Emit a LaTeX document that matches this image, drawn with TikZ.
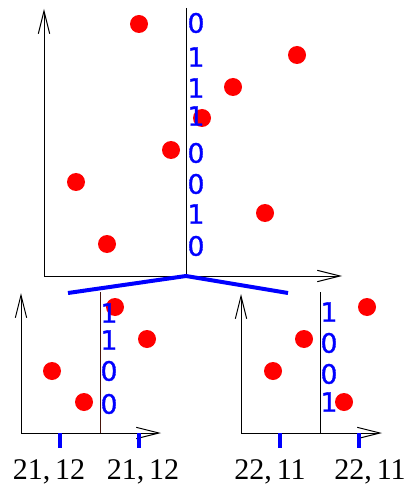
\documentclass[tikz,border=0pt]{standalone}
\usepackage{fontspec}
\setmainfont{Liberation Serif}
\newfontfamily\bitfont[FakeBold=1.2]{DejaVu Sans}
\usetikzlibrary{arrows.meta}
\definecolor{splitbrown}{RGB}{70,20,10}

\begin{document}
\begin{tikzpicture}[
        x=0.75pt, y=-0.75pt,
        axis/.style={line width=0.75pt, -{Straight Barb[length=17pt,width=8.5pt]}},
        split/.style={line width=0.75pt},
        branch/.style={blue, line width=3pt},
        tick/.style={blue, line width=3pt},
        dot/.style={red},
        bit/.style={blue, inner sep=0pt, font=\bitfont\fontsize{20}{20}\selectfont},
        lbl/.style={anchor=base, inner sep=0pt, font=\fontsize{22.5}{23}\selectfont}
    ]
    \useasboundingbox (0,0) rectangle (407,488);

    % top plot
    \coordinate (topO) at (44,276);
    \coordinate (topS) at (186,276);
    \draw[axis] (topO) -- (44,9);
    \draw[axis] (topO) -- (342,276);
    \draw[split] (186,8) -- (topS);
    \foreach \x/\y in {139/24, 297/55, 233/87, 202/118, 171/150, 76/182, 265/213, 107/244}
        \fill[dot] (\x,\y) circle[radius=6.75pt];
    \foreach \y/\b [count=\i] in {23/0, 57/1, 88/1, 116/1, 153/0, 184/0, 214/1, 246/0}
        \node[bit] (topbit\i) at (196,\y) {\b};

    % branches
    \draw[branch] (68,293) -- (topS) -- (288,293);

    % bottom left plot
    \coordinate (leftO) at (21,433);
    \draw[axis] (leftO) -- (21,293);
    \draw[axis] (leftO) -- (161,433);
    \draw[split, splitbrown] (100,292) -- (100,433);
    \foreach \x/\y in {115/307, 147/339, 52/371, 84/402}
        \fill[dot] (\x,\y) circle[radius=6.75pt];
    \foreach \y/\b [count=\i] in {313/1, 340/1, 371/0, 404/0}
        \node[bit] (leftbit\i) at (109,\y) {\b};
    \foreach \x in {60, 139}
        \draw[tick] (\x,433) -- (\x,448);
    \node[lbl] (leftlblA) at (49,479) {21,\,12};
    \node[lbl] (leftlblB) at (143,479) {21,\,12};

    % bottom right plot
    \coordinate (rightO) at (241,433);
    \draw[axis] (rightO) -- (241,294);
    \draw[axis] (rightO) -- (382,433);
    \draw[split] (320,292) -- (320,433);
    \foreach \x/\y in {367/307, 304/339, 273/371, 344/402}
        \fill[dot] (\x,\y) circle[radius=6.75pt];
    \foreach \y/\b [count=\i] in {312/1, 343/0, 374/0, 402/1}
        \node[bit] (rightbit\i) at (329,\y) {\b};
    \foreach \x in {280, 359}
        \draw[tick] (\x,433) -- (\x,448);
    \node[lbl] (rightlblA) at (270,479) {22,\,11};
    \node[lbl] (rightlblB) at (370,479) {22,\,11};
\end{tikzpicture}
\end{document}
